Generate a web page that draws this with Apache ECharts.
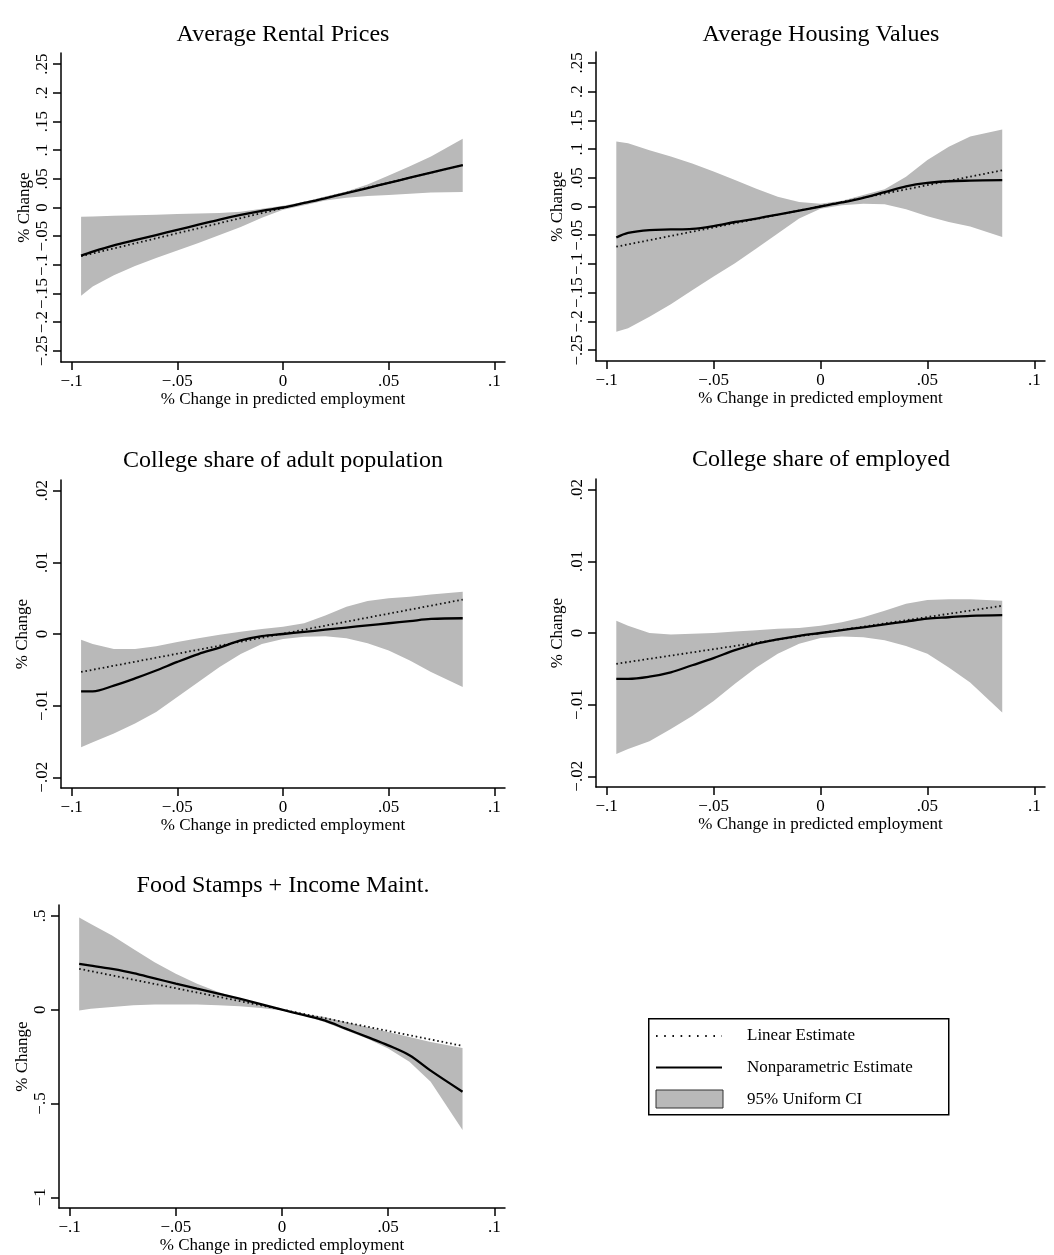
<!DOCTYPE html>
<html>
<head>
<meta charset="utf-8">
<script src="https://cdn.jsdelivr.net/npm/echarts@6/dist/echarts.min.js"></script>
<style>
html,body{margin:0;padding:0;background:#fff;}
#chart{width:1054px;height:1255px;}
</style>
</head>
<body>
<div id="chart"></div>
<script>
// ---------- DATA ----------
const xPoints = [-0.0955,-0.09,-0.08,-0.07,-0.06,-0.05,-0.04,-0.03,-0.02,-0.01,0,0.01,0.02,0.03,0.04,0.05,0.06,0.07,0.085];
const xLinEnds = [-0.0955, 0.085];

const xTickValues = [-0.1,-0.05,0,0.05,0.1];
const xTickLabels = ['\u2212.1','\u2212.05','0','.05','.1'];

const titles = ['Average Rental Prices','Average Housing Values','College share of adult population','College share of employed','Food Stamps + Income Maint.'];

// Panel 1: Average Rental Prices
const rentNP    = [-0.084,-0.077,-0.066,-0.057,-0.048,-0.039,-0.030,-0.021,-0.013,-0.006,0,0.008,0.016,0.025,0.034,0.043,0.052,0.061,0.074];
const rentLin   = [-0.085, 0.074];
const rentUpper = [-0.016,-0.0155,-0.0145,-0.0135,-0.0125,-0.0115,-0.0105,-0.0095,-0.0075,-0.002,0.003,0.010,0.019,0.028,0.040,0.056,0.072,0.089,0.120];
const rentLower = [-0.154,-0.138,-0.118,-0.102,-0.088,-0.075,-0.062,-0.048,-0.034,-0.018,-0.004,0.004,0.012,0.017,0.020,0.022,0.024,0.026,0.027];

// Panel 2: Average Housing Values
const houseNP    = [-0.054,-0.046,-0.041,-0.040,-0.039,-0.034,-0.027,-0.021,-0.014,-0.007,0,0.007,0.015,0.025,0.035,0.041,0.044,0.045,0.046];
const houseLin   = [-0.070, 0.063];
const houseUpper = [0.113,0.110,0.098,0.087,0.075,0.061,0.046,0.031,0.017,0.008,0.005,0.010,0.020,0.030,0.052,0.081,0.104,0.122,0.134];
const houseLower = [-0.218,-0.212,-0.192,-0.170,-0.146,-0.122,-0.099,-0.073,-0.047,-0.021,-0.004,0.002,0.005,0.004,-0.005,-0.017,-0.027,-0.035,-0.053];

// Panel 3: College share of adult population
const adultNP    = [-0.0080,-0.0080,-0.0072,-0.0062,-0.0051,-0.0039,-0.0028,-0.0019,-0.0009,-0.0003,0,0.0003,0.0006,0.0009,0.0012,0.0015,0.0018,0.0021,0.0022];
const adultLin   = [-0.0053, 0.0048];
const adultUpper = [-0.0008,-0.0014,-0.0021,-0.0021,-0.0017,-0.0011,-0.0006,-0.0001,0.0003,0.0007,0.0010,0.0015,0.0026,0.0038,0.0046,0.0050,0.0052,0.0055,0.0059];
const adultLower = [-0.0158,-0.0151,-0.0139,-0.0125,-0.0109,-0.0088,-0.0067,-0.0046,-0.0028,-0.0014,-0.0007,-0.0004,-0.0003,-0.0006,-0.0013,-0.0023,-0.0037,-0.0053,-0.0074];

// Panel 4: College share of employed
const emplNP    = [-0.0064,-0.0064,-0.0061,-0.0055,-0.0045,-0.0035,-0.0024,-0.0015,-0.0009,-0.0004,0,0.0004,0.0008,0.0012,0.0016,0.0020,0.0022,0.0024,0.0025];
const emplLin   = [-0.0043, 0.0038];
const emplUpper = [0.0017,0.0010,0.0000,-0.0002,-0.0001,0.0000,0.0002,0.0004,0.0006,0.0007,0.0010,0.0015,0.0022,0.0031,0.0041,0.0046,0.0047,0.0047,0.0045];
const emplLower = [-0.0169,-0.0162,-0.0151,-0.0134,-0.0116,-0.0095,-0.0071,-0.0048,-0.0029,-0.0015,-0.0007,-0.0005,-0.0006,-0.0010,-0.0018,-0.0029,-0.0048,-0.0069,-0.0111];

// Panel 5: Food Stamps + Income Maint.
const foodNP    = [0.244,0.235,0.217,0.195,0.167,0.139,0.112,0.086,0.059,0.030,0,-0.028,-0.057,-0.101,-0.145,-0.190,-0.243,-0.325,-0.437];
const foodLin   = [0.218, -0.193];
const foodUpper = [0.492,0.457,0.395,0.324,0.253,0.191,0.138,0.094,0.058,0.027,0.002,-0.021,-0.039,-0.065,-0.092,-0.119,-0.145,-0.172,-0.204];
const foodLower = [-0.004,0.005,0.014,0.023,0.027,0.028,0.027,0.023,0.018,0.009,-0.004,-0.030,-0.065,-0.110,-0.154,-0.207,-0.278,-0.384,-0.641];

// Y ticks per panel
const yTicksPrice  = [-0.25,-0.2,-0.15,-0.1,-0.05,0,0.05,0.1,0.15,0.2,0.25];
const yLabelsPrice = ['\u2212.25','\u2212.2','\u2212.15','\u2212.1','\u2212.05','0','.05','.1','.15','.2','.25'];
const yTicksShare  = [-0.02,-0.01,0,0.01,0.02];
const yLabelsShare = ['\u2212.02','\u2212.01','0','.01','.02'];
const yTicksFood   = [-1,-0.5,0,0.5];
const yLabelsFood  = ['\u22121','\u2212.5','0','.5'];

const legendLabels = ['Linear Estimate','Nonparametric Estimate','95% Uniform CI'];

// ---------- STYLE / LAYOUT ----------
const FONT = '"Liberation Serif","Times New Roman",serif';
const BAND = '#b9b9b9';
const panels = [
  {grid:{left:61, top:53, width:444, height:309}, xr:[-0.105,0.105], yr:[-0.2695,0.2695], yt:yTicksPrice, yl:yLabelsPrice, np:rentNP, lin:rentLin, up:rentUpper, lo:rentLower, tx:283, ty:23, ng:25},
  {grid:{left:596, top:52, width:449, height:309}, xr:[-0.105,0.105], yr:[-0.269,0.269], yt:yTicksPrice, yl:yLabelsPrice, np:houseNP, lin:houseLin, up:houseUpper, lo:houseLower, tx:821, ty:23, ng:30},
  {grid:{left:61, top:480, width:444, height:308}, xr:[-0.105,0.105], yr:[-0.0215,0.0215], yt:yTicksShare, yl:yLabelsShare, np:adultNP, lin:adultLin, up:adultUpper, lo:adultLower, tx:283, ty:449, ng:30},
  {grid:{left:596, top:479, width:449, height:308}, xr:[-0.105,0.105], yr:[-0.0215,0.0215], yt:yTicksShare, yl:yLabelsShare, np:emplNP, lin:emplLin, up:emplUpper, lo:emplLower, tx:821, ty:448, ng:30},
  {grid:{left:59, top:905, width:446, height:304}, xr:[-0.105,0.105], yr:[-1.057,0.558], yt:yTicksFood, yl:yLabelsFood, np:foodNP, lin:foodLin, up:foodUpper, lo:foodLower, tx:283, ty:874, ng:28}
];

function labelFor(values, labels){
  return function(v){
    let best = 0, d = Infinity;
    values.forEach((t,i)=>{ const dd=Math.abs(t-v); if(dd<d){d=dd;best=i;} });
    return labels[best];
  };
}

const option = {
  animation:false,
  backgroundColor:'#ffffff',
  title:[], grid:[], xAxis:[], yAxis:[], series:[],
  graphic:[]
};

panels.forEach((p, k) => {
  option.title.push({
    text: titles[k], left: p.tx, top: p.ty, textAlign:'center', padding:0,
    textStyle:{fontFamily:FONT, fontSize:24, fontWeight:'normal', color:'#000'}
  });
  option.grid.push(Object.assign({containLabel:false}, p.grid));
  option.xAxis.push({
    type:'value', gridIndex:k, min:p.xr[0], max:p.xr[1],
    name:'% Change in predicted employment', nameLocation:'middle', nameGap:29,
    nameTextStyle:{fontFamily:FONT, fontSize:17, color:'#000'},
    axisLine:{show:true, onZero:false, lineStyle:{color:'#000', width:1.5}},
    axisTick:{show:true, length:8, lineStyle:{color:'#000', width:1.5}, customValues:xTickValues},
    axisLabel:{show:true, margin:11, fontFamily:FONT, fontSize:17, color:'#000', customValues:xTickValues, formatter:labelFor(xTickValues, xTickLabels)},
    splitLine:{show:false}
  });
  option.yAxis.push({
    type:'value', gridIndex:k, min:p.yr[0], max:p.yr[1],
    name:'% Change', nameLocation:'middle', nameGap:p.ng, nameRotate:90,
    nameTextStyle:{fontFamily:FONT, fontSize:17, color:'#000'},
    axisLine:{show:true, onZero:false, lineStyle:{color:'#000', width:1.5}},
    axisTick:{show:true, length:8, lineStyle:{color:'#000', width:1.5}, customValues:p.yt},
    axisLabel:{show:true, margin:10, rotate:90, fontFamily:FONT, fontSize:17, color:'#000', customValues:p.yt, formatter:labelFor(p.yt, p.yl)},
    splitLine:{show:false}
  });
  const bandData = xPoints.map((x,i)=>[x, p.lo[i], p.up[i]]);
  option.series.push({
    type:'custom', name:'95% Uniform CI', xAxisIndex:k, yAxisIndex:k, z:1,
    data: bandData, encode:{x:0, y:[1,2]},
    renderItem: (function(data){
      return function(params, api){
        if (params.dataIndex !== 0) return null;
        const pts = [];
        for (let i=0;i<data.length;i++) pts.push(api.coord([data[i][0], data[i][2]]));
        for (let i=data.length-1;i>=0;i--) pts.push(api.coord([data[i][0], data[i][1]]));
        return {type:'polygon', shape:{points:pts}, style:{fill:BAND, stroke:null}};
      };
    })(bandData)
  });
  option.series.push({
    type:'line', name:'Linear Estimate', xAxisIndex:k, yAxisIndex:k, z:3,
    data: xLinEnds.map((x,i)=>[x, p.lin[i]]), symbol:'none',
    lineStyle:{color:'#111', width:1.8, type:[1.6,2.8], cap:'butt'}
  });
  option.series.push({
    type:'line', name:'Nonparametric Estimate', xAxisIndex:k, yAxisIndex:k, z:4,
    data: xPoints.map((x,i)=>[x, p.np[i]]), symbol:'none', smooth:0.35,
    lineStyle:{color:'#000', width:2.3}
  });
});

// Legend box
option.graphic.push(
  {type:'rect', left:648, top:1018, shape:{width:300, height:96}, style:{fill:'#fff', stroke:'#000', lineWidth:1.5}, z:10},
  {type:'line', shape:{x1:656, y1:1036, x2:722, y2:1036}, style:{stroke:'#111', lineWidth:1.8, lineDash:[1.6,6.6]}, z:11},
  {type:'line', shape:{x1:656, y1:1067.5, x2:722, y2:1067.5}, style:{stroke:'#000', lineWidth:2}, z:11},
  {type:'rect', shape:{x:656, y:1090, width:67, height:18}, style:{fill:BAND, stroke:'#333', lineWidth:1}, z:11},
  {type:'text', x:747, y:1036, style:{text:legendLabels[0], font:'17px '+FONT, fill:'#000', textVerticalAlign:'middle', verticalAlign:'middle'}, z:11},
  {type:'text', x:747, y:1068, style:{text:legendLabels[1], font:'17px '+FONT, fill:'#000', textVerticalAlign:'middle', verticalAlign:'middle'}, z:11},
  {type:'text', x:747, y:1100, style:{text:legendLabels[2], font:'17px '+FONT, fill:'#000', textVerticalAlign:'middle', verticalAlign:'middle'}, z:11}
);

const chart = echarts.init(document.getElementById('chart'), null, {renderer:'canvas'});
chart.setOption(option);
</script>
</body>
</html>
